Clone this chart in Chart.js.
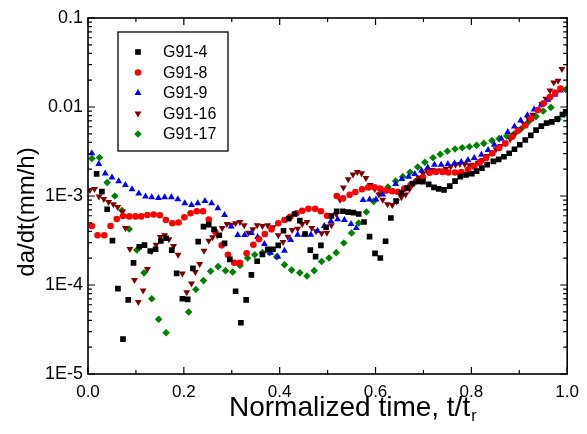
<!DOCTYPE html>
<html>
<head>
<meta charset="utf-8">
<script src="https://cdn.jsdelivr.net/npm/chart.js@4.4.1/dist/chart.umd.min.js"></script>
<style>
html, body { margin: 0; padding: 0; background: #fff; }
#wrap { width: 587px; height: 434px; }
</style>
</head>
<body>
<div id="wrap"><canvas id="rateChart" width="587" height="434"></canvas></div>
<script>
// [normalized time t/tr, da/dt (mm/h)]
const g91_4 = [[0.018,1.77e-3],[0.029,1.12e-3],[0.040,7.1e-4],[0.051,3.15e-4],[0.0625,9.1e-5],[0.073,2.47e-5],[0.084,6.8e-5],[0.095,1.77e-4],[0.107,2.69e-4],[0.118,2.81e-4],
  [0.130,2.41e-4],[0.141,2.52e-4],[0.152,3.12e-4],[0.163,3.35e-4],[0.175,2.47e-4],[0.185,1.35e-4],[0.197,7.0e-5],[0.208,6.9e-5],[0.219,1.54e-4],[0.230,3.07e-4],
  [0.241,4.52e-4],[0.252,4.76e-4],[0.263,4.22e-4],[0.274,3.62e-4],[0.285,2.94e-4],[0.296,1.94e-4],[0.308,8.5e-5],[0.319,3.77e-5],[0.330,6.8e-5],[0.341,1.30e-4],
  [0.353,1.85e-4],[0.364,2.2e-4],[0.375,2.52e-4],[0.386,2.52e-4],[0.397,2.79e-4],[0.408,4.07e-4],[0.419,5.56e-4],[0.431,6.28e-4],[0.442,5.28e-4],[0.453,3.74e-4],
  [0.464,2.47e-4],[0.475,2.08e-4],[0.486,2.79e-4],[0.497,4.45e-4],[0.508,5.96e-4],[0.519,6.74e-4],[0.532,6.74e-4],[0.543,6.6e-4],[0.554,6.5e-4],[0.565,6.28e-4],
  [0.576,5.1e-4],[0.5875,3.49e-4],[0.599,2.27e-4],[0.610,2.01e-4],[0.621,3.10e-4],[0.632,5.66e-4],[0.643,8.78e-4],[0.654,1.08e-3],[0.666,1.23e-3],[0.677,1.38e-3],
  [0.689,1.46e-3],[0.699,1.45e-3],[0.711,1.35e-3],[0.722,1.25e-3],[0.732,1.20e-3],[0.743,1.17e-3],[0.755,1.29e-3],[0.766,1.47e-3],[0.777,1.65e-3],[0.789,1.72e-3],
  [0.801,1.78e-3],[0.811,1.90e-3],[0.822,2.06e-3],[0.833,2.25e-3],[0.846,2.45e-3],[0.857,2.58e-3],[0.868,2.76e-3],[0.879,3.02e-3],[0.890,3.35e-3],[0.901,3.77e-3],
  [0.9125,4.26e-3],[0.924,4.8e-3],[0.935,5.5e-3],[0.946,6.1e-3],[0.957,6.6e-3],[0.968,6.8e-3],[0.979,7.3e-3],[0.990,8.2e-3],[0.997,8.8e-3]];

const g91_8 = [[0.008,4.6e-4],[0.020,3.62e-4],[0.034,3.62e-4],[0.047,4.6e-4],[0.060,5.51e-4],[0.073,5.96e-4],[0.086,5.9e-4],[0.099,5.9e-4],[0.111,5.9e-4],[0.124,6.11e-4],
  [0.137,6.2e-4],[0.150,6.07e-4],[0.1625,5.37e-4],[0.176,4.94e-4],[0.189,5.03e-4],[0.201,5.77e-4],[0.214,6.4e-4],[0.227,6.74e-4],[0.240,6.74e-4],[0.252,5.42e-4],
  [0.266,3.94e-4],[0.279,2.79e-4],[0.292,2.19e-4],[0.305,1.78e-4],[0.317,1.78e-4],[0.331,2.27e-4],[0.345,2.83e-4],[0.357,3.26e-4],[0.369,3.74e-4],[0.383,4.22e-4],
  [0.397,4.94e-4],[0.410,5.37e-4],[0.422,5.85e-4],[0.435,6.4e-4],[0.447,6.84e-4],[0.460,7.2e-4],[0.474,7.2e-4],[0.486,6.74e-4],[0.499,6.0e-4],[0.519,1.0e-3],
  [0.532,9.4e-4],[0.546,1.03e-3],[0.558,1.11e-3],[0.572,1.19e-3],[0.585,1.25e-3],[0.598,1.25e-3],[0.610,1.21e-3],[0.622,1.15e-3],[0.635,1.13e-3],[0.647,1.11e-3],
  [0.660,1.21e-3],[0.673,1.32e-3],[0.685,1.46e-3],[0.699,1.62e-3],[0.713,1.83e-3],[0.726,1.86e-3],[0.740,1.86e-3],[0.752,1.84e-3],[0.766,1.84e-3],[0.779,1.86e-3],
  [0.793,1.98e-3],[0.806,2.14e-3],[0.818,2.41e-3],[0.831,2.67e-3],[0.844,3.02e-3],[0.858,3.46e-3],[0.871,3.9e-3],[0.885,4.64e-3],[0.897,5.42e-3],[0.9125,6.2e-3],
  [0.925,7.4e-3],[0.939,9.25e-3],[0.951,1.10e-2],[0.964,1.29e-2],[0.975,1.45e-2],[0.986,1.61e-2]];

const g91_9 = [[0.008,3.02e-3],[0.0225,2.29e-3],[0.036,1.79e-3],[0.050,1.61e-3],[0.064,1.46e-3],[0.078,1.33e-3],[0.092,1.19e-3],[0.106,1.07e-3],[0.120,9.87e-4],[0.133,9.7e-4],
  [0.147,9.5e-4],[0.160,9.7e-4],[0.174,9.7e-4],[0.1875,9.2e-4],[0.202,8.3e-4],[0.216,7.9e-4],[0.229,8.3e-4],[0.244,8.8e-4],[0.258,8.3e-4],[0.271,7.3e-4],
  [0.285,6.1e-4],[0.299,4.54e-4],[0.3125,3.64e-4],[0.327,3.64e-4],[0.341,3.84e-4],[0.354,3.46e-4],[0.368,2.89e-4],[0.381,2.31e-4],[0.396,2.08e-4],[0.410,2.43e-4],
  [0.423,3.2e-4],[0.4375,3.67e-4],[0.451,3.67e-4],[0.465,3.67e-4],[0.479,4.07e-4],[0.493,4.6e-4],[0.507,5.2e-4],[0.521,5.47e-4],[0.535,5.37e-4],[0.549,4.85e-4],
  [0.560,4.37e-4],[0.574,9.0e-4],[0.5875,9.15e-4],[0.601,9.15e-4],[0.615,1.04e-3],[0.628,1.15e-3],[0.642,1.36e-3],[0.655,1.55e-3],[0.669,1.65e-3],[0.682,1.77e-3],
  [0.696,1.93e-3],[0.709,2.09e-3],[0.723,2.25e-3],[0.737,2.25e-3],[0.751,2.29e-3],[0.765,2.33e-3],[0.779,2.41e-3],[0.793,2.54e-3],[0.806,2.67e-3],[0.821,2.91e-3],
  [0.835,3.29e-3],[0.848,3.77e-3],[0.8625,4.41e-3],[0.876,5.23e-3],[0.890,6.03e-3],[0.903,7.05e-3],[0.917,8.07e-3],[0.931,9.4e-3],[0.946,1.06e-2],[0.960,1.21e-2],
  [0.974,1.37e-2],[0.986,1.53e-2]];

const g91_16 = [[0.004,1.17e-3],[0.0135,1.2e-3],[0.023,9.9e-4],[0.033,9.25e-4],[0.043,8.56e-4],[0.053,8.1e-4],[0.062,7.5e-4],[0.072,6.7e-4],[0.078,4.37e-4],[0.0875,2.54e-4],
  [0.097,1.14e-4],[0.105,6.44e-5],[0.115,8.65e-5],[0.124,1.51e-4],[0.133,2.39e-4],[0.142,2.83e-4],[0.151,3.46e-4],[0.160,3.62e-4],[0.169,3.26e-4],[0.1785,2.74e-4],
  [0.188,2.19e-4],[0.197,1.35e-4],[0.206,8.3e-5],[0.216,1.04e-4],[0.224,1.40e-4],[0.233,1.72e-4],[0.242,2.43e-4],[0.252,3.15e-4],[0.260,3.44e-4],[0.270,3.62e-4],
  [0.280,4.37e-4],[0.290,4.85e-4],[0.299,4.76e-4],[0.308,4.94e-4],[0.317,5.1e-4],[0.326,4.68e-4],[0.335,3.87e-4],[0.344,4.22e-4],[0.353,4.68e-4],[0.364,4.6e-4],
  [0.375,4.68e-4],[0.386,4.45e-4],[0.397,3.62e-4],[0.407,3.04e-4],[0.417,3.49e-4],[0.426,4.15e-4],[0.4375,4.29e-4],[0.447,4.85e-4],[0.457,5.1e-4],[0.467,4.37e-4],
  [0.476,4.01e-4],[0.4875,3.81e-4],[0.4985,3.87e-4],[0.508,4.68e-4],[0.518,6.28e-4],[0.526,9.1e-4],[0.533,1.25e-3],[0.543,1.54e-3],[0.553,1.74e-3],[0.562,1.86e-3],
  [0.571,1.80e-3],[0.580,1.59e-3],[0.589,1.33e-3],[0.5985,1.20e-3],[0.607,1.04e-3],[0.615,9.07e-4],[0.625,8.1e-4],[0.635,7.9e-4],[0.644,8.7e-4],[0.654,9.7e-4],
  [0.663,1.04e-3],[0.671,1.2e-3],[0.680,1.40e-3],[0.690,1.61e-3],[0.699,1.79e-3],[0.708,1.91e-3],[0.718,1.96e-3],[0.728,1.93e-3],[0.7375,1.93e-3],[0.747,2.03e-3],
  [0.757,2.14e-3],[0.767,2.25e-3],[0.776,2.29e-3],[0.786,2.29e-3],[0.796,2.21e-3],[0.804,2.25e-3],[0.814,2.37e-3],[0.8235,2.54e-3],[0.833,2.81e-3],[0.843,3.06e-3],
  [0.8515,3.35e-3],[0.861,3.64e-3],[0.871,3.9e-3],[0.881,4.34e-3],[0.890,4.88e-3],[0.900,5.6e-3],[0.910,6.44e-3],[0.919,7.4e-3],[0.928,8.2e-3],[0.9375,9.4e-3],
  [0.947,1.08e-2],[0.9556,1.24e-2],[0.964,1.53e-2],[0.972,1.88e-2],[0.981,1.97e-2],[0.989,2.67e-2]];

const g91_17 = [[0.008,2.64e-3],[0.024,2.71e-3],[0.040,1.42e-3],[0.056,1.0e-3],[0.071,6.87e-4],[0.086,4.26e-4],[0.102,2.47e-4],[0.117,1.37e-4],[0.133,7.0e-5],[0.1475,4.12e-5],
  [0.163,2.91e-5],[0.210,4.97e-5],[0.225,8.9e-5],[0.241,1.12e-4],[0.256,1.43e-4],[0.2715,1.61e-4],[0.287,1.45e-4],[0.302,1.40e-4],[0.317,1.66e-4],[0.333,2.01e-4],
  [0.348,2.19e-4],[0.364,2.31e-4],[0.379,2.31e-4],[0.394,2.08e-4],[0.410,1.69e-4],[0.425,1.47e-4],[0.442,1.37e-4],[0.457,1.26e-4],[0.472,1.45e-4],[0.4875,1.84e-4],
  [0.503,2.01e-4],[0.518,2.31e-4],[0.534,2.96e-4],[0.550,3.84e-4],[0.565,4.97e-4],[0.581,6.6e-4],[0.596,8.7e-4],[0.611,1.08e-3],[0.626,1.26e-3],[0.642,1.47e-3],
  [0.657,1.65e-3],[0.672,1.85e-3],[0.688,2.12e-3],[0.703,2.39e-3],[0.720,2.69e-3],[0.735,2.94e-3],[0.750,3.18e-3],[0.766,3.37e-3],[0.781,3.49e-3],[0.796,3.58e-3],
  [0.811,3.71e-3],[0.826,3.9e-3],[0.843,4.19e-3],[0.858,4.41e-3],[0.874,4.72e-3],[0.889,4.97e-3],[0.904,5.7e-3],[0.919,6.78e-3],[0.935,7.8e-3],[0.950,9.0e-3],
  [0.966,9.9e-3],[0.981,7.3e-3],[0.997,1.57e-2]];

const seriesNames = ['G91-4', 'G91-8', 'G91-9', 'G91-16', 'G91-17'];
const seriesData = [g91_4, g91_8, g91_9, g91_16, g91_17];
const xTicks = [0, 0.2, 0.4, 0.6, 0.8, 1.0];
const xMinorTicks = [0.1, 0.3, 0.5, 0.7, 0.9];
const yTicks = [1e-5, 1e-4, 1e-3, 1e-2, 1e-1];
const yTickLabels = ['1E-5', '1E-4', '1E-3', '0.01', '0.1'];

const FONT = 'Arial, "Liberation Sans", sans-serif';
const markers = [
	{ color: '#000000', style: 'rect', rot: 0, r: 4.0 },
	{ color: '#ff0000', style: 'circle', rot: 0, r: 3.3 },
	{ color: '#0000ff', style: 'triangle', rot: 0, r: 4.0 },
	{ color: '#800000', style: 'triangle', rot: 180, r: 4.0 },
	{ color: '#008000', style: 'rectRot', rot: 0, r: 3.8 }
];

function drawMarker(ctx, m, cx, cy) {
	const r = m.r;
	ctx.fillStyle = m.color;
	ctx.beginPath();
	if (m.style === 'circle') {
		ctx.arc(cx, cy, r, 0, Math.PI * 2);
	} else if (m.style === 'rect') {
		const s = r * Math.SQRT1_2;
		ctx.rect(cx - s, cy - s, 2 * s, 2 * s);
	} else if (m.style === 'rectRot') {
		ctx.moveTo(cx, cy - r); ctx.lineTo(cx + r, cy); ctx.lineTo(cx, cy + r); ctx.lineTo(cx - r, cy);
		ctx.closePath();
	} else {
		const d = m.rot ? -1 : 1; // pointing down when rotated
		ctx.moveTo(cx, cy - d * r);
		ctx.lineTo(cx + r * 0.866, cy + d * r * 0.5);
		ctx.lineTo(cx - r * 0.866, cy + d * r * 0.5);
		ctx.closePath();
	}
	ctx.fill();
}

// frame with inward ticks on all sides, legend box and axis titles
const framePlugin = {
	id: 'framePlugin',
	afterDatasetsDraw(chart) {
		const { ctx, chartArea: { left, right, top, bottom }, scales: { x, y } } = chart;
		ctx.save();
		ctx.strokeStyle = '#000';
		ctx.lineWidth = 1.2;
		ctx.beginPath();
		xTicks.forEach(v => {
			const px = x.getPixelForValue(v);
			ctx.moveTo(px, bottom); ctx.lineTo(px, bottom - 7);
			ctx.moveTo(px, top); ctx.lineTo(px, top + 7);
		});
		xMinorTicks.forEach(v => {
			const px = x.getPixelForValue(v);
			ctx.moveTo(px, bottom); ctx.lineTo(px, bottom - 4);
			ctx.moveTo(px, top); ctx.lineTo(px, top + 4);
		});
		yTicks.forEach((d, i) => {
			const py = y.getPixelForValue(d);
			ctx.moveTo(left, py); ctx.lineTo(left + 7, py);
			ctx.moveTo(right, py); ctx.lineTo(right - 7, py);
			if (i < yTicks.length - 1) {
				for (let k = 2; k <= 9; k++) {
					const pm = y.getPixelForValue(d * k);
					ctx.moveTo(left, pm); ctx.lineTo(left + 4, pm);
					ctx.moveTo(right, pm); ctx.lineTo(right - 4, pm);
				}
			}
		});
		ctx.stroke();

		ctx.lineWidth = 1.6;
		ctx.strokeRect(left, top, right - left, bottom - top);

		// legend
		ctx.fillStyle = '#fff';
		ctx.fillRect(118, 32, 110, 119);
		ctx.lineWidth = 1.3;
		ctx.strokeRect(118, 32, 110, 119);
		ctx.font = '16px ' + FONT;
		ctx.textBaseline = 'middle';
		ctx.textAlign = 'left';
		seriesNames.forEach((name, i) => {
			const ry = 52 + i * 20.5;
			drawMarker(ctx, markers[i], 138, ry);
			ctx.fillStyle = '#000';
			ctx.fillText(name, 163, ry + 1);
		});

		// x title with subscript
		ctx.fillStyle = '#000';
		ctx.textBaseline = 'alphabetic';
		ctx.font = '28px ' + FONT;
		const main = 'Normalized time, t/t';
		ctx.fillText(main, 229, 416);
		const w = ctx.measureText(main).width;
		ctx.font = '16px ' + FONT;
		ctx.fillText('r', 229 + w + 1, 421);

		// y title
		ctx.save();
		ctx.translate(34, 212);
		ctx.rotate(-Math.PI / 2);
		ctx.font = '24px ' + FONT;
		ctx.textAlign = 'center';
		ctx.fillText('da/dt(mm/h)', 0, 0);
		ctx.restore();

		ctx.restore();
	}
};

const datasets = seriesData.map((pts, i) => ({
	label: seriesNames[i],
	data: pts.map(p => ({ x: p[0], y: p[1] })),
	pointStyle: markers[i].style,
	pointRotation: markers[i].rot,
	pointRadius: markers[i].r,
	pointHoverRadius: markers[i].r,
	pointBackgroundColor: markers[i].color,
	pointBorderColor: markers[i].color,
	pointBorderWidth: 0,
	showLine: false
}));

const ctx = document.getElementById('rateChart').getContext('2d');
new Chart(ctx, {
	type: 'scatter',
	data: { datasets: datasets },
	options: {
		responsive: false,
		animation: false,
		layout: { padding: { top: 18, right: 19, left: 0, bottom: 0 } },
		plugins: {
			legend: { display: false },
			tooltip: { enabled: false }
		},
		scales: {
			x: {
				type: 'linear',
				min: 0,
				max: 1,
				afterFit: s => { s.height = 60; },
				afterBuildTicks: s => { s.ticks = xTicks.map(v => ({ value: v })); },
				grid: { display: false, drawTicks: false },
				border: { display: false },
				ticks: {
					padding: 8,
					color: '#000',
					font: { family: FONT, size: 17 },
					maxRotation: 0,
					callback: v => v.toFixed(1)
				}
			},
			y: {
				type: 'logarithmic',
				min: 1e-5,
				max: 0.1,
				afterFit: s => { s.width = 88; },
				afterBuildTicks: s => { s.ticks = yTicks.map(v => ({ value: v })); },
				grid: { display: false, drawTicks: false },
				border: { display: false },
				ticks: {
					padding: 5,
					color: '#000',
					font: { family: FONT, size: 18 },
					callback: v => {
						const i = yTicks.findIndex(t => Math.abs(Math.log10(t) - Math.log10(v)) < 1e-6);
						return i >= 0 ? yTickLabels[i] : '';
					}
				}
			}
		}
	},
	plugins: [framePlugin]
});
</script>
</body>
</html>
